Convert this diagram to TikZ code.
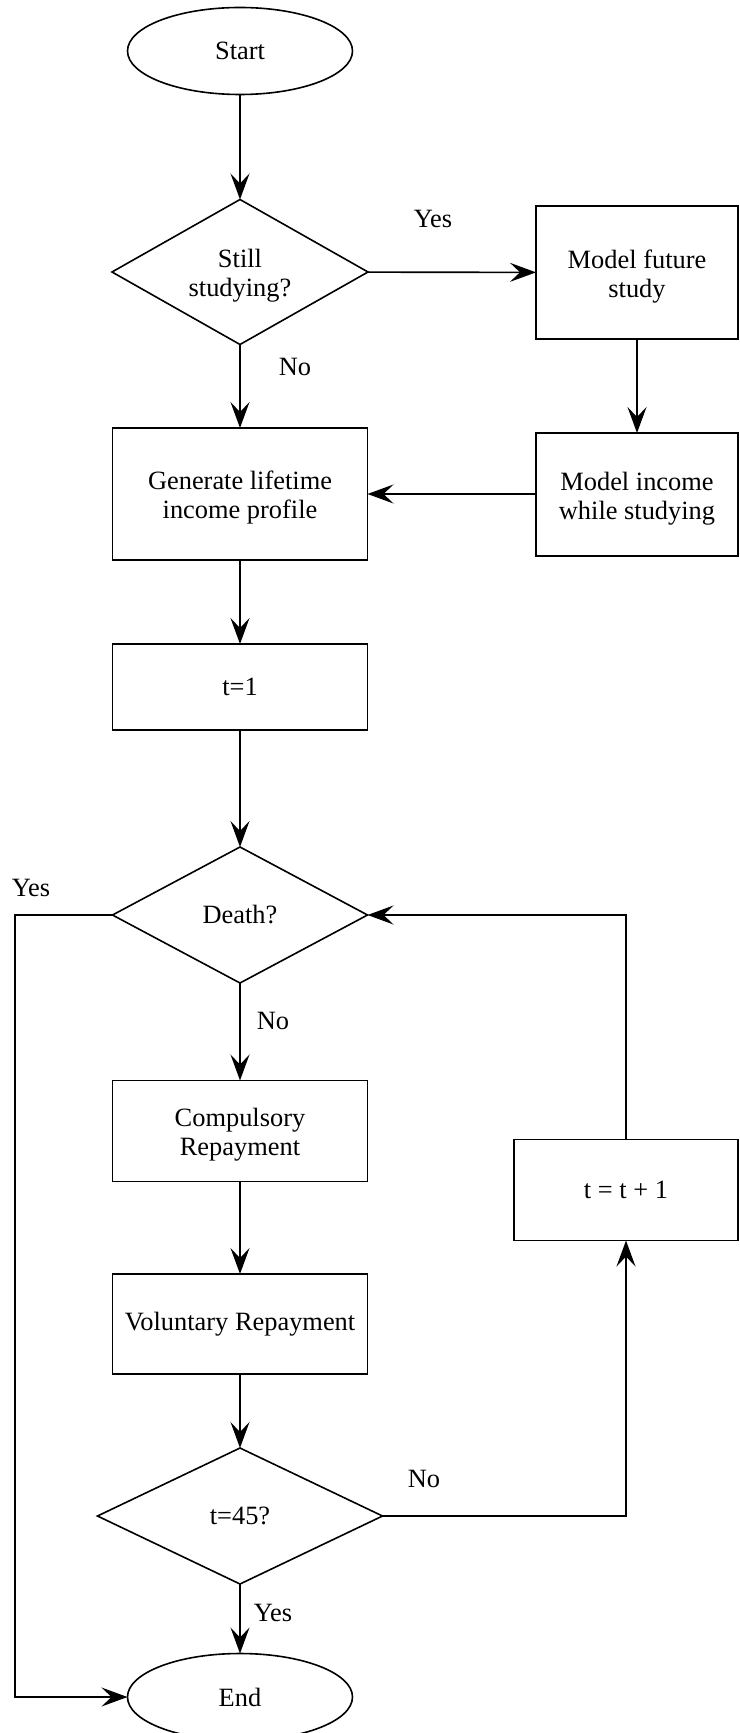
\documentclass[tikz,border=0pt]{standalone}
\usepackage{fontspec}
\setmainfont{Liberation Serif}
\usetikzlibrary{shapes.geometric,arrows.meta}

% two lines of text, set a little low as in the drawing
\newcommand{\nodelines}[1]{\raisebox{-2.2pt}[\height][\depth]{\begin{tabular}{@{}c@{}}#1\end{tabular}}}

\tikzset{
  box/.style={draw,rectangle,line width=0.8pt,align=center,inner sep=0pt,outer sep=0pt},
  decision/.style={draw,diamond,aspect=1.8,line width=0.8pt,align=center,inner sep=0pt,outer sep=0pt},
  terminal/.style={draw,ellipse,line width=0.8pt,minimum width=112.5pt,minimum height=43.5pt,inner sep=0pt,outer sep=0pt},
  arr/.style={line width=0.8pt,-{Stealth[length=13pt,width=9.5pt,inset=5pt]}},
  lbl/.style={font=\fontsize{13.2}{14.5}\selectfont}
}

\begin{document}
\begin{tikzpicture}[x=0.5pt,y=-0.5pt,font=\fontsize{13.2}{14.5}\selectfont]
\useasboundingbox (0,0) rectangle (739,1733);

% main column
\node [terminal] (start) at (240,51) {Start};
\node [decision,minimum width=128pt,minimum height=72.5pt] (study) at (240,272) {\nodelines{Still\\studying?}};
\node [box,minimum width=127.5pt,minimum height=66pt] (income) at (240,494) {\nodelines{Generate lifetime\\income profile}};
\node [box,minimum width=127.5pt,minimum height=43pt] (tone) at (240,687) {t=1};
\node [decision,minimum width=127.5pt,minimum height=68pt] (death) at (240,915) {Death?};
\node [box,minimum width=127.5pt,minimum height=50.5pt] (comp) at (240,1131) {\nodelines{Compulsory\\Repayment}};
\node [box,minimum width=127.5pt,minimum height=50pt] (vol) at (240,1324) {Voluntary Repayment};
\node [decision,minimum width=142.5pt,minimum height=68pt] (last) at (240,1516) {t=45?};
\node [terminal] (end) at (240,1697) {End};

% side boxes
\node [box,minimum width=101pt,minimum height=66.5pt] (future) at (637,272.5) {\nodelines{Model future\\study}};
\node [box,minimum width=101pt,minimum height=61.5pt] (studyinc) at (637,494.5) {\nodelines{Model income\\while studying}};
\node [box,minimum width=112pt,minimum height=50.5pt] (incr) at (626,1190) {t = t + 1};

\coordinate (yesleft) at (15,915);
\coordinate (loopup) at (626,915);

% labels
\node [lbl] (yesstudy) at (433,219) {Yes};
\node [lbl] (nostudy) at (295,367) {No};
\node [lbl] (yesdeath) at (31,888) {Yes};
\node [lbl] (nodeath) at (273,1021) {No};
\node [lbl] (nolast) at (424,1479) {No};
\node [lbl] (yeslast) at (273,1613) {Yes};

% connectors
\draw [arr] (start) -- (study);
\draw [arr] (study) -- (future);
\draw [arr] (future) -- (studyinc);
\draw [arr] (studyinc.west |- income.east) -- (income.east);
\draw [arr] (study) -- (income);
\draw [arr] (income) -- (tone);
\draw [arr] (tone) -- (death);
\draw [arr] (death) -- (comp);
\draw [arr] (comp) -- (vol);
\draw [arr] (vol) -- (last);
\draw [arr] (last) -- (end);
\draw [arr] (last.east) -| (incr.south);
\draw [arr] (incr.north) -- (loopup) -- (death.east);
\draw [arr] (death.west) -- (yesleft) |- (end.west);
\end{tikzpicture}
\end{document}
